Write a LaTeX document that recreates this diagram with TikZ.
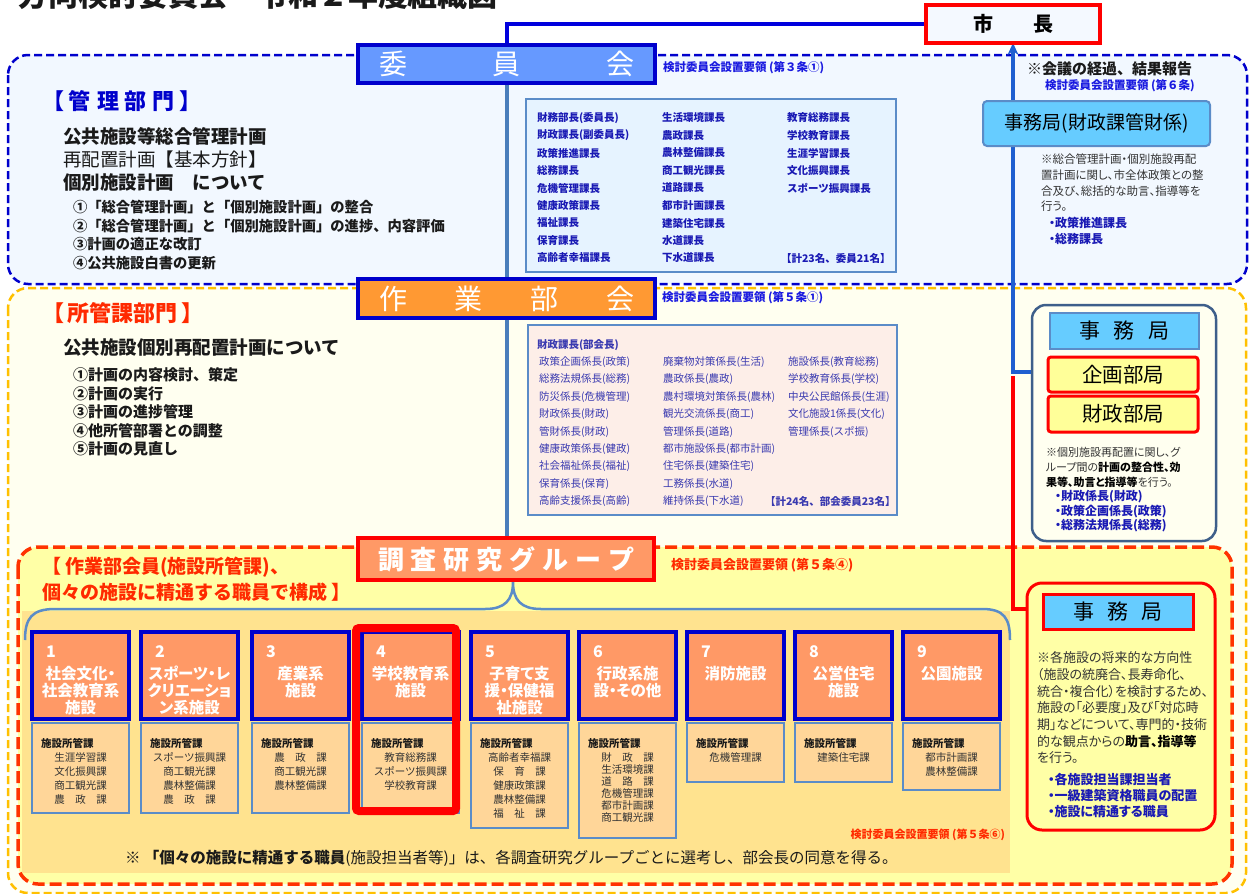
\documentclass[tikz,border=0pt]{standalone}
\usepackage{fontspec}
\setmainfont{Noto Sans CJK JP}
\newfontfamily\pfont{Noto Sans CJK JP}[RawFeature={+palt}]
\usetikzlibrary{arrows.meta,calc}
\pgfdeclarelayer{bg}
\pgfsetlayers{bg,main}
\newcommand\myfs[1]{\fontsize{#1}{#1}\selectfont}
\definecolor{dblue}{HTML}{0000CC}
\definecolor{cfblue}{HTML}{6699FF}
\definecolor{orng}{HTML}{FF9933}
\definecolor{salmon}{HTML}{FF9966}
\definecolor{cyanbox}{HTML}{66CCFF}
\definecolor{steel}{HTML}{5B8CC8}
\definecolor{steelline}{HTML}{4A7EBB}
\definecolor{listblue}{HTML}{1A1AB4}
\definecolor{wlblue}{HTML}{3A3AB0}
\definecolor{refblue}{HTML}{1A1AE0}
\definecolor{redt}{HTML}{FF2A00}
\definecolor{ybox}{HTML}{FFFF99}
\definecolor{yreg}{HTML}{FFFFA6}
\definecolor{ivory}{HTML}{FFFFF0}
\definecolor{lbluebg}{HTML}{F2F8FF}
\definecolor{memblue}{HTML}{E6F3FF}
\definecolor{mempink}{HTML}{FDEEE8}
\definecolor{grpfill}{HTML}{FFE38F}
\definecolor{subfill}{HTML}{FFD699}
\definecolor{slate}{HTML}{3E5F8A}
\definecolor{ylborder}{HTML}{FFC000}
\definecolor{redborder}{HTML}{FF3300}
\definecolor{linkblue}{HTML}{1F5FD0}
\definecolor{linkdark}{HTML}{0000DD}
\definecolor{notegray}{HTML}{333333}
\definecolor{txtblack}{HTML}{1A1A1A}
\definecolor{mayorfill}{HTML}{F4F9FF}
\tikzset{
  region/.style={rounded corners=20pt, dash pattern=on 8pt off 4pt, line width=2.5pt},
  bigbox/.style={anchor=north west, draw=dblue, line width=3.5pt},
  clst/.style={anchor=west, font={\myfs{10.5}\bfseries}, text=listblue},
  wlst/.style={anchor=west, font={\myfs{10.5}}, text=wlblue},
  reftxt/.style={anchor=west, font={\myfs{11.5}\bfseries}, text=refblue},
  lefttxt/.style={anchor=west, text=txtblack},
  notetxt/.style={anchor=west, font={\pfont\myfs{11.5}}, text=notegray},
  bluenote/.style={anchor=west, font={\pfont\myfs{12}\bfseries}, text=listblue},
  hdrbox/.style={anchor=north west, draw=dblue, line width=3.5pt, fill=salmon, minimum width=97pt, minimum height=87pt},
  subbox/.style={anchor=north west, draw=steel, line width=2pt, fill=subfill, minimum width=97pt},
  numtxt/.style={anchor=west, font={\myfs{16}\bfseries}, text=white},
  hdrtxt/.style={anchor=north, align=center, font={\pfont\fontsize{15.5}{17}\selectfont\bfseries}, text=white},
  subhd/.style={anchor=west, font={\myfs{10.5}\bfseries}, text=txtblack},
}
\newcommand\grpbox[6]{%
  \node[hdrbox] (h#1) at (#2,632) {};
  \node[subbox, minimum height=#5] (s#1) at (#2,723) {};
  \node[numtxt] (n#1) at ($(h#1.north west)+(14,20)$) {#1};
  \node[hdrtxt] (t#1) at ($(h#1.north)+(0,34)$) {#3};
  \node[subhd] (sh#1) at ($(s#1.north west)+(9,20)$) {施設所管課};
  \node[anchor=north, align=center, text=notegray, font={\fontsize{10.5}{#6}\selectfont}] (sl#1) at ($(s#1.north)+(0,30)$) {#4};
}
\begin{document}
\begin{tikzpicture}[x=1pt,y=-1pt,every node/.style={inner sep=0pt,outer sep=0pt}]
\useasboundingbox (0,0) rectangle (1250,894);

% ---------- background regions ----------
\begin{pgfonlayer}{bg}
\draw[region, draw=dblue, fill=lbluebg] (8,55) rectangle (1247,284);
\draw[region, draw=ylborder, fill=ivory] (8,288) rectangle (1246,893);
\draw[region, draw=redborder, fill=yreg, dash pattern=on 12pt off 5pt, line width=3.5pt] (18,547) rectangle (1232,884);
\fill[grpfill] (22,611) rectangle (1010,873);
\draw[steel, line width=2.5pt] (25,640) .. controls (25,618) and (32,609) .. (55,609) -- (485,609) .. controls (505,609) and (513,600) .. (513,582) .. controls (513,600) and (521,609) .. (541,609) -- (982,609) .. controls (1004,609) and (1010,618) .. (1010,640);
\end{pgfonlayer}

% ---------- title ----------
\node[anchor=base west, font={\myfs{30}\bfseries}, text=txtblack] (title) at (18,6.5) {方向検討委員会　令和２年度組織図};

% ---------- mayor ----------
\node[anchor=north west, draw=red, line width=3.5pt, fill=mayorfill, minimum width=174pt, minimum height=38pt, font={\myfs{20}\bfseries}] (mayor) at (926,5) {市　　長};

% ---------- committee ----------
\node[bigbox, fill=cfblue, minimum width=297pt, minimum height=38pt, text=white, font={\myfs{28}}] (iin) at (358,45) {\makebox[255pt]{委\hfill 員\hfill 会}};
\node[reftxt] (ref3) at (663,68) {検討委員会設置要領 (第３条①)};
\node[anchor=north west, draw=steel, line width=2pt, fill=memblue, minimum width=370pt, minimum height=173pt] (cmem) at (526,99) {};
\foreach \t [count=\i from 0] in {財務部長(委員長),財政課長(副委員長),政策推進課長,総務課長,危機管理課長,健康政策課長,福祉課長,保育課長,高齢者幸福課長}
  \node[clst] (ca\i) at (537,118+17.5*\i) {\t};
\foreach \t [count=\i from 0] in {生活環境課長,農政課長,農林整備課長,商工観光課長,道路課長,都市計画課長,建築住宅課長,水道課長,下水道課長}
  \node[clst] (cb\i) at (662,118+17.5*\i) {\t};
\foreach \t [count=\i from 0] in {教育総務課長,学校教育課長,生涯学習課長,文化振興課長,スポーツ振興課長}
  \node[clst] (cc\i) at (787,118+17.5*\i) {\t};
\node[clst] (ctot) at (781,258) {【計23名、委員21名】};

% left text (management)
\node[lefttxt, text=dblue, font={\myfs{22}\bfseries}] (kanri) at (42,101) {【\hspace{5pt}管\hspace{6pt}理\hspace{6pt}部\hspace{6pt}門\hspace{5pt}】};
\node[lefttxt, font={\myfs{18.5}\bfseries}] (k1) at (63,136) {公共施設等総合管理計画};
\node[lefttxt, font={\myfs{18.5}}] (k2) at (63,159) {再配置計画【基本方針】};
\node[lefttxt, font={\myfs{18.5}\bfseries}] (k3) at (63,182) {個別施設計画　について};
\node[lefttxt, font={\myfs{14.3}\bfseries}] (ki1) at (73,207) {①「総合管理計画」と「個別施設計画」の整合};
\node[lefttxt, font={\myfs{14.3}\bfseries}] (ki2) at (73,226) {②「総合管理計画」と「個別施設計画」の進捗、内容評価};
\node[lefttxt, font={\myfs{14.3}\bfseries}] (ki3) at (73,244) {③計画の適正な改訂};
\node[lefttxt, font={\myfs{14.3}\bfseries}] (ki4) at (73,263) {④公共施設白書の更新};

% right top
\node[lefttxt, font={\myfs{15}\bfseries}] (rep) at (1027,69) {※会議の経過、結果報告};
\node[reftxt] (ref6) at (1045,86) {検討委員会設置要領 (第６条)};
\node[anchor=north west, draw=steel, line width=2pt, fill=cyanbox, rounded corners=4pt, minimum width=227pt, minimum height=45pt, font={\myfs{19}}] (j1) at (983,101) {事務局(財政課管財係)};
\node[notetxt] (j1n1) at (1041,159) {※総合管理計画・個別施設再配};
\node[notetxt] (j1n2) at (1041,175) {置計画に関し、市全体政策との整};
\node[notetxt] (j1n3) at (1041,191) {合及び、総括的な助言、指導等を};
\node[notetxt] (j1n4) at (1041,206) {行う。};
\node[bluenote] (j1b1) at (1049,223) {・政策推進課長};
\node[bluenote] (j1b2) at (1049,239) {・総務課長};

% ---------- working group ----------
\node[bigbox, fill=orng, minimum width=297pt, minimum height=39pt, text=white, font={\myfs{28}}] (sagyo) at (358,279) {\makebox[255pt]{作\hfill 業\hfill 部\hfill 会}};
\node[reftxt] (ref5a) at (662,298) {検討委員会設置要領 (第５条①)};
\node[anchor=north west, draw=steel, line width=2pt, fill=mempink, minimum width=369pt, minimum height=190pt] (wmem) at (528,325) {};
\node[clst, text=wlblue] (whead) at (537,345) {財政課長(部会長)};
\foreach \t [count=\i from 0] in {政策企画係長(政策),総務法規係長(総務),防災係長(危機管理),財政係長(財政),管財係長(財政),健康政策係長(健政),社会福祉係長(福祉),保育係長(保育),高齢支援係長(高齢)}
  \node[wlst] (wa\i) at (539,362+17.4*\i) {\t};
\foreach \t [count=\i from 0] in {廃棄物対策係長(生活),農政係長(農政),農村環境対策係長(農林),観光交流係長(商工),管理係長(道路),都市施設係長(都市計画),住宅係長(建築住宅),工務係長(水道),維持係長(下水道)}
  \node[wlst] (wb\i) at (663,362+17.4*\i) {\t};
\foreach \t [count=\i from 0] in {施設係長(教育総務),学校教育係長(学校),中央公民館係長(生涯),文化施設1係長(文化),管理係長(スポ振)}
  \node[wlst] (wc\i) at (788,362+17.4*\i) {\t};
\node[clst, text=wlblue] (wtot) at (765,501) {【計24名、部会委員23名】};

\node[lefttxt, text=redt, font={\myfs{22}\bfseries}] (shokan) at (42,313) {【\hspace{4pt}所管課部門\hspace{4pt}】};
\node[lefttxt, font={\myfs{18.5}\bfseries}] (s1) at (63,348) {公共施設個別再配置計画について};
\node[lefttxt, font={\myfs{15}\bfseries}] (si1) at (73,375) {①計画の内容検討、策定};
\node[lefttxt, font={\myfs{15}\bfseries}] (si2) at (73,393.5) {②計画の実行};
\node[lefttxt, font={\myfs{15}\bfseries}] (si3) at (73,412) {③計画の進捗管理};
\node[lefttxt, font={\myfs{15}\bfseries}] (si4) at (73,430.5) {④他所管部署との調整};
\node[lefttxt, font={\myfs{15}\bfseries}] (si5) at (73,449) {⑤計画の見直し};

% right middle secretariat
\node[anchor=north west, draw=slate, line width=2.5pt, rounded corners=14pt, minimum width=184pt, minimum height=236pt] (g2) at (1032,305) {};
\node[anchor=north west, draw=steel, line width=2pt, fill=cyanbox, minimum width=149pt, minimum height=36pt, font={\myfs{21}}] (j2) at (1050,313) {\makebox[90pt]{事\hfill 務\hfill 局}};
\node[anchor=north west, draw=red, line width=3pt, fill=ybox, rounded corners=3pt, minimum width=150pt, minimum height=35pt, font={\myfs{20.5}}] (kikaku) at (1048,357) {企画部局};
\node[anchor=north west, draw=red, line width=3pt, fill=ybox, rounded corners=3pt, minimum width=150pt, minimum height=36pt, font={\myfs{20.5}}] (zaisei) at (1048,396) {財政部局};
\node[notetxt, font={\pfont\myfs{11}}] (j2n1) at (1046,452) {※個別施設再配置に関し、グ};
\node[notetxt, font={\pfont\myfs{11}}] (j2n2) at (1046,467) {ループ間の\textbf{\color{black}計画の整合性、効}};
\node[notetxt, font={\pfont\myfs{11}}] (j2n3) at (1046,482) {\textbf{\color{black}果等、助言と指導等}を行う。};
\node[bluenote] (j2b1) at (1055,497) {・財政係長(財政)};
\node[bluenote] (j2b2) at (1055,512) {・政策企画係長(政策)};
\node[bluenote] (j2b3) at (1055,526) {・総務法規係長(総務)};

% ---------- research group ----------
\node[bigbox, draw=red, fill=salmon, minimum width=296pt, minimum height=42pt, text=white, font={\myfs{26}\bfseries}] (chosa) at (358,538) {\makebox[256pt]{調\hfill 査\hfill 研\hfill 究\hfill グ\hfill ル\hfill ー\hfill プ}};
\node[reftxt, text=redt, font={\myfs{13}\bfseries}] (ref5b) at (671,565) {検討委員会設置要領 (第５条④)};
\node[lefttxt, text=redt, font={\myfs{19}\bfseries}] (r1) at (42,567) {【 作業部会員(施設所管課)、};
\node[lefttxt, text=redt, font={\myfs{19}\bfseries}] (r2) at (42,592) {個々の施設に精通する職員で構成 】};

\grpbox{1}{32}{社会文化・\\社会教育系\\施設}{生涯学習課\\文化振興課\\商工観光課\\農　政　課}{90}{14}
\grpbox{2}{141}{スポーツ・レ\\クリエーショ\\ン系施設}{スポーツ振興課\\商工観光課\\農林整備課\\農　政　課}{90}{14}
\grpbox{3}{252}{産業系\\施設}{農　政　課\\商工観光課\\農林整備課}{90}{14}
\grpbox{4}{362}{学校教育系\\施設}{教育総務課\\スポーツ振興課\\学校教育課}{90}{14}
\grpbox{5}{471}{子育て支\\援・保健福\\祉施設}{高齢者幸福課\\保　育　課\\健康政策課\\農林整備課\\福　祉　課}{105}{14}
\grpbox{6}{579}{行政系施\\設・その他}{財　政　課\\生活環境課\\道　路　課\\危機管理課\\都市計画課\\商工観光課}{115}{12}
\grpbox{7}{687}{消防施設}{危機管理課}{59}{14}
\grpbox{8}{795}{公営住宅\\施設}{建築住宅課}{59}{14}
\grpbox{9}{903}{公園施設}{都市計画課\\農林整備課}{67}{14}
\node[anchor=north west, draw=red, line width=8pt, rounded corners=3pt, minimum width=100pt, minimum height=183pt] (hl4) at (356,628) {};

\node[anchor=east, font={\myfs{11}\bfseries}, text=redt] (ref5c) at (1005,835) {検討委員会設置要領 (第５条⑥)};
\node[anchor=west, font={\myfs{15.5}}, text=txtblack] (bnote) at (125,858) {※ \textbf{「個々の施設に精通する職員}(施設担当者等)」は、各調査研究グループごとに選考し、部会長の同意を得る。};

% right bottom secretariat
\node[anchor=north west, draw=red, line width=3pt, fill=yreg, rounded corners=15pt, minimum width=188pt, minimum height=247pt] (g3) at (1027,583) {};
\node[anchor=north west, draw=red, line width=3pt, fill=cyanbox, minimum width=150pt, minimum height=35pt, font={\myfs{21}}] (j3) at (1043,594) {\makebox[90pt]{事\hfill 務\hfill 局}};
\node[notetxt, font={\pfont\myfs{13}}] (j3n1) at (1037,658) {※各施設の将来的な方向性};
\node[notetxt, font={\pfont\myfs{13}}] (j3n2) at (1037,674.7) {（施設の統廃合、長寿命化、};
\node[notetxt, font={\pfont\myfs{13}}] (j3n3) at (1037,691.4) {統合・複合化）を検討するため、};
\node[notetxt, font={\pfont\myfs{13}}] (j3n4) at (1037,708) {施設の「必要度」及び「対応時};
\node[notetxt, font={\pfont\myfs{13}}] (j3n5) at (1037,724.8) {期」などについて、専門的・技術};
\node[notetxt, font={\pfont\myfs{13}}] (j3n6) at (1037,741.5) {的な観点からの\textbf{\color{black}助言、指導等}};
\node[notetxt, font={\pfont\myfs{13}}] (j3n7) at (1037,758) {を行う。};
\node[bluenote, font={\pfont\myfs{13}\bfseries}] (j3b1) at (1048,779) {・各施設担当課担当者};
\node[bluenote, font={\pfont\myfs{13}\bfseries}] (j3b2) at (1048,796) {・一級建築資格職員の配置};
\node[bluenote, font={\pfont\myfs{13}\bfseries}] (j3b3) at (1048,812) {・施設に精通する職員};

% ---------- connectors ----------
\coordinate (j2in) at (1032,372);
\coordinate (redstart) at (1013,376);
\coordinate (j3in) at (1027,609);
\begin{pgfonlayer}{bg}
\draw[line width=4pt, draw=linkdark] (iin.north) |- (mayor.west);
\draw[line width=4pt, draw=steelline] (iin.south) -- (iin.south |- chosa.north);
\draw[line width=3.5pt, draw=linkblue, -{Stealth[length=12pt,width=11pt]}] (j2in) -| (mayor.south);
\draw[line width=3.5pt, draw=red] (redstart) |- (j3in);
\end{pgfonlayer}
\end{tikzpicture}
\end{document}
